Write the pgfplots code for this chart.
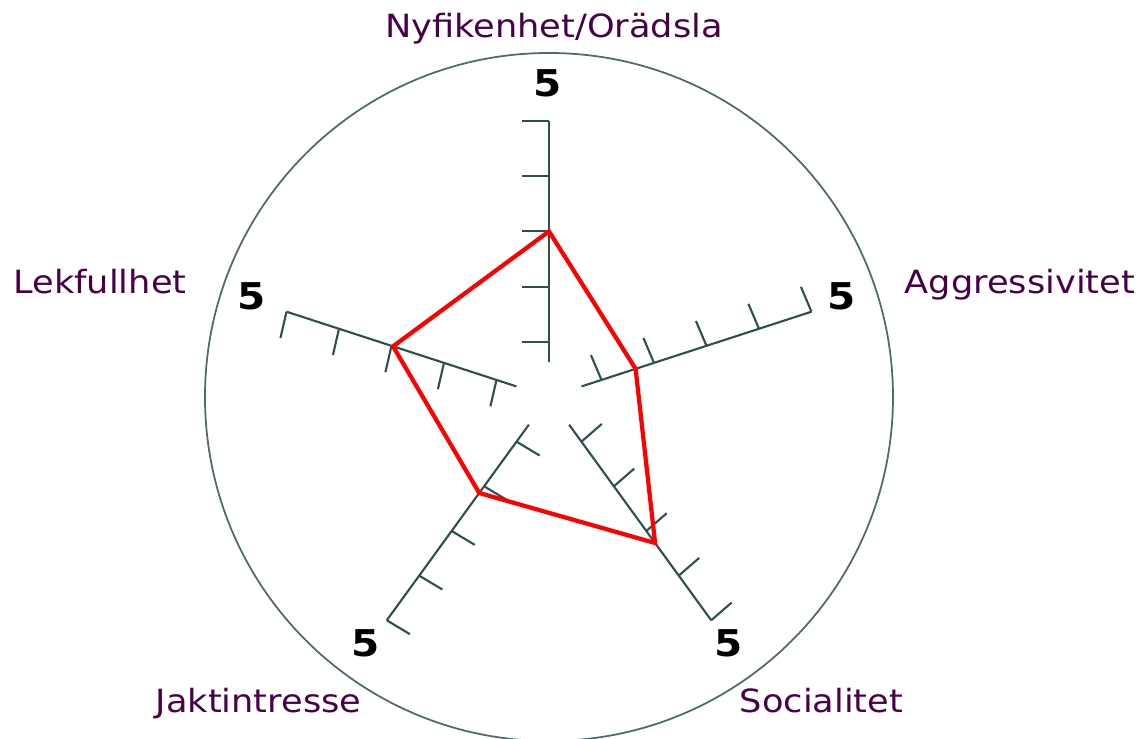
\documentclass[border=0pt]{standalone}
\usepackage{fontspec}
\setmainfont{DejaVu Sans}[FakeStretch=1.1]
\usepackage{pgfplots}
\pgfplotsset{compat=1.18}
\usepgfplotslibrary{polar}
\definecolor{spoke}{HTML}{2F4F4F}
\definecolor{circ}{HTML}{4F6A6A}
\definecolor{lbl}{HTML}{4A0048}
\begin{document}
\begin{tikzpicture}
\begin{polaraxis}[
  width=6.88cm, height=6.88cm, scale only axis,
  xmin=0, xmax=360, ymin=0, ymax=6.232,
  xtick=\empty, ytick=\empty,
  separate axis lines,
  x axis line style={draw=circ, line width=0.5pt},
  y axis line style={draw=none},
  clip=false,
]
\coordinate (O) at (axis cs:0,0);
% spokes
\addplot[spoke, line width=0.6pt, mark=none] coordinates {(90,0.64) (90,5)};
\addplot[spoke, line width=0.6pt, mark=none] coordinates {(18,0.62) (18,5)};
\addplot[spoke, line width=0.6pt, mark=none] coordinates {(306,0.62) (306,5)};
\addplot[spoke, line width=0.6pt, mark=none] coordinates {(234,0.62) (234,5)};
\addplot[spoke, line width=0.6pt, mark=none] coordinates {(162,0.62) (162,5)};
% ticks
\pgfplotsinvokeforeach{1,2,3,4,5}{
  \draw[spoke, line width=0.6pt] (axis cs:90,#1) -- ++(180:0.27cm);
  \draw[spoke, line width=0.6pt] (axis cs:18,#1) -- ++(113:0.27cm);
  \draw[spoke, line width=0.6pt] (axis cs:306,#1) -- ++(41:0.27cm);
  \draw[spoke, line width=0.6pt] (axis cs:234,#1) -- ++(-31:0.27cm);
  \draw[spoke, line width=0.6pt] (axis cs:162,#1) -- ++(257:0.27cm);
}
% data
\addplot[red, line width=1.2pt, line join=miter, mark=none]
  coordinates {(90,3) (18,1.65) (306,3.27) (234,2.15) (162,2.97)} -- cycle;
\end{polaraxis}
\pgfresetboundingbox
\path[use as bounding box] ([shift={(-5.49,-3.42)}]O) rectangle ([shift={(5.90,3.97)}]O);
\tikzset{nm/.style={inner sep=0pt, text=lbl, font={\fontsize{9.1}{11}\selectfont}, anchor=base},
         fv/.style={inner sep=0pt, text=black, font={\fontsize{10.5}{12}\selectfont\bfseries}}}
\node[nm] at ([shift={(0.05,3.59)}]O) {Nyfikenhet/Orädsla};
\node[nm] at ([shift={(4.71,1.037)}]O) {Aggressivitet};
\node[nm] at ([shift={(-4.49,1.03)}]O) {Lekfullhet};
\node[nm] at ([shift={(-2.905,-3.16)}]O) {Jaktintresse};
\node[nm] at ([shift={(2.725,-3.16)}]O) {Socialitet};
\node[fv] at ([shift={(-0.015,3.135)}]O) {5};
\node[fv] at ([shift={(2.93,1.003)}]O) {5};
\node[fv] at ([shift={(-2.97,1.003)}]O) {5};
\node[fv] at ([shift={(-1.835,-2.463)}]O) {5};
\node[fv] at ([shift={(1.793,-2.463)}]O) {5};
\end{tikzpicture}
\end{document}
